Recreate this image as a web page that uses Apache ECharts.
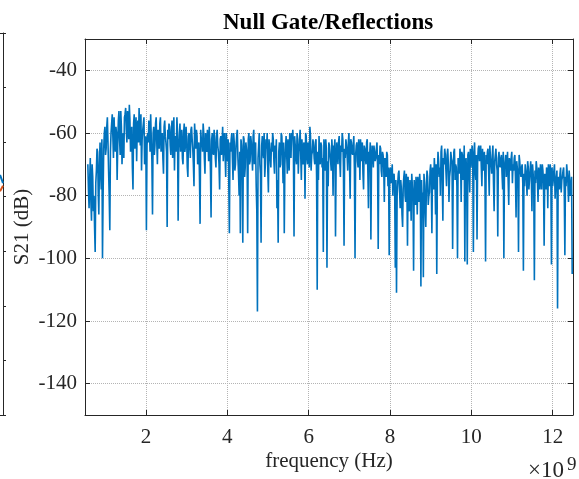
<!DOCTYPE html>
<html><head><meta charset="utf-8">
<script src="https://cdn.jsdelivr.net/npm/echarts@6/dist/echarts.min.js"></script>
<style>html,body{margin:0;padding:0;background:#fff}#c{width:579px;height:479px}</style>
</head><body><div id="c"></div>
<script>
// Sweep definition (instrument frequency grid): 0.57 GHz .. 12.48 GHz, 15 MHz step
const freqStartHz = 0.57e9;
const freqStepHz = 0.015e9;
// S21 magnitude (dB), samples at even sweep indices
const s21dBEven = [
-70,-84,-68,-88,-74,-80,-98,-72,-66,-86,-63,-78,-100,-65,-58,
-65,-55,-72,-91,-60,-54,-68,-62,-58,-75,-56,-62,-53,-70,-60,-55,-52,
-63,-57,-51,-66,-58,-78,-54,-61,-69,-56,-52,-64,-72,-59,-55,-67,-91,
-60,-56,-66,-62,-86,-58,-64,-55,-70,-61,-57,-66,-60,-73,-56,-63,-90,
-62,-58,-67,-56,-60,-72,-63,-55,-88,-61,-66,-59,-70,-57,-64,-62,-74,
-60,-68,-58,-65,-77,-61,-59,-70,-63,-89,-62,-66,-60,-73,-64,-59,-69,
-63,-87,-60,-67,-62,-71,-59,-66,-78,-61,-64,-69,-60,-74,-65,-62,-92,
-66,-60,-75,-63,-70,-61,-68,-80,-92,-64,-95,-62,-71,-65,-92,-60,-69,
-63,-72,-59,-66,-77,-117,-64,-70,-95,-61,-68,-74,-62,-60,-79,-65,-71,
-66,-62,-73,-68,-84,-95,-63,-70,-61,-76,-92,-65,-67,-62,-72,-64,-60,
-59,-93,-64,-70,-62,-66,-59,-75,-68,-63,-81,-61,-70,-65,-58,-72,-66,
-64,-70,-62,-110,-75,-67,-63,-71,-98,-66,-62,-103,-77,-64,-69,-62,-80,
-65,-93,-63,-70,-61,-74,-66,-62,-96,-68,-64,-72,-60,-81,-63,-67,-61,
-100,-64,-69,-62,-75,-66,-63,-78,-65,-70,-62,-84,-67,-94,-64,-71,-66,
-68,-63,-97,-70,-65,-74,-67,-82,-69,-66,-77,-99,-71,-75,-80,-73,-103,
-111,-76,-72,-84,-78,-90,-74,-80,-73,-96,-82,-75,-88,-77,-104,-79,-74,
-86,-78,-73,-109,-81,-106,-76,-90,-72,-83,-79,-70,-92,-75,-68,-86,-105,
-66,-74,-80,-64,-88,-70,-67,-77,-65,-82,-72,-68,-97,-66,-75,-71,-100,
-70,-65,-82,-67,-73,-101,-68,-102,-66,-79,-71,-64,-98,-63,-75,-94,-65,
-69,-64,-77,-72,-66,-101,-70,-65,-80,-68,-73,-64,-85,-67,-70,-93,-66,
-71,-67,-78,-100,-69,-74,-66,-83,-70,-68,-76,-72,-67,-87,-71,-98,-69,
-74,-70,-104,-77,-72,-80,-71,-75,-69,-85,-73,-107,-76,-71,-82,-74,-70,
-78,-72,-96,-75,-71,-84,-73,-70,-102,-77,-72,-81,-74,-116,-76,-73,-79,
-74,-71,-99,-77,-73,-82,-75,-78,-105
];
// S21 magnitude (dB), samples at odd sweep indices
const s21dBOdd = [
-78,-75,-82,-70,-85,-90,-76,-65,-79,-70,-73,-62,-80,-60,-67,
-58,-63,-80,-66,-57,-61,-55,-66,-60,-64,-53,-67,-58,-63,-68,-54,-59,
-53,-62,-56,-60,-71,-57,-65,-55,-58,-63,-60,-54,-62,-57,-70,-61,-64,
-63,-59,-54,-69,-60,-67,-57,-63,-59,-65,-55,-62,-68,-58,-61,-66,-59,
-57,-64,-59,-68,-55,-61,-66,-60,-65,-57,-63,-68,-60,-66,-58,-71,-61,
-64,-59,-62,-70,-57,-65,-61,-67,-74,-59,-63,-57,-68,-60,-66,-62,-58,
-72,-62,-66,-59,-68,-61,-64,-70,-62,-67,-58,-63,-67,-60,-69,-75,-63,
-62,-68,-60,-72,-64,-59,-73,-66,-62,-69,-61,-74,-63,-67,-62,-70,-61,
-67,-61,-70,-63,-85,-68,-60,-73,-64,-66,-60,-70,-65,-72,-62,-68,-63,
-60,-69,-64,-62,-75,-66,-71,-60,-67,-63,-70,-61,-73,-66,-60,-68,-62,
-66,-61,-68,-60,-73,-63,-67,-62,-70,-65,-60,-68,-63,-71,-61,-67,-62,
-68,-63,-74,-66,-61,-70,-64,-68,-62,-72,-65,-69,-63,-67,-72,-66,-64,
-62,-70,-66,-63,-69,-64,-60,-71,-65,-62,-67,-63,-70,-62,-66,-64,-72,
-67,-63,-71,-65,-62,-69,-73,-64,-68,-63,-72,-66,-63,-70,-67,-64,-69,
-65,-71,-67,-64,-72,-66,-70,-68,-74,-67,-71,-73,-76,-70,-74,-78,-75,
-80,-73,-78,-75,-86,-77,-72,-82,-76,-74,-85,-78,-73,-80,-75,-83,-77,
-74,-82,-77,-75,-79,-73,-84,-77,-74,-80,-72,-76,-71,-78,-73,-70,-74,
-69,-71,-66,-75,-68,-65,-72,-67,-70,-74,-66,-69,-73,-65,-70,-77,-68,
-73,-68,-66,-75,-64,-70,-74,-67,-72,-65,-68,-70,-66,-72,-67,-69,-64,
-67,-71,-65,-69,-75,-67,-66,-72,-64,-70,-67,-76,-69,-65,-72,-68,-70,
-68,-73,-66,-71,-67,-70,-75,-68,-72,-66,-70,-68,-74,-69,-73,-67,-72,
-71,-76,-73,-70,-75,-69,-78,-72,-74,-70,-77,-72,-69,-75,-71,-78,-73,
-70,-76,-73,-78,-72,-70,-77,-74,-71,-75,-70,-76,-72,-74,-78,-71,-75,
-72,-78,-74,-70,-76,-72,-80,-74
];
const xTickValues = [2e9, 4e9, 6e9, 8e9, 10e9, 12e9];
const yTickValues = [-140, -120, -100, -80, -60, -40];
const xRange = [0.5e9, 12.5e9];
const yRange = [-150, -30];
const titleText = 'Null Gate/Reflections';
const xLabel = 'frequency (Hz)';
const yLabel = 'S21 (dB)';
const xExponent = '9';
// neighbouring (cropped) subplot: only its right edge is visible
const leftPanelBlue = [[0, 4.4], [1, 4.25]];
const leftPanelRed = [[0, 4.1], [1, 4.2]];

// merge even/odd samples in sweep order
const sweep = [];
s21dBEven.forEach((v, i) => {
  sweep.push(v);
  if (i < s21dBOdd.length) sweep.push(s21dBOdd[i]);
});
const seriesData = sweep.map((v, k) => [freqStartHz + k * freqStepHz, v]);

const ink = '#262626';
const gridInk = '#b4b4b4';
const serif = '"Liberation Serif", "Times New Roman", serif';
const chart = echarts.init(document.getElementById('c'), null, {renderer: 'canvas'});
const frameLine = {show: true, onZero: false, lineStyle: {color: ink, width: 1}};
const frameTick = {show: true, inside: true, length: 5, lineStyle: {color: ink, width: 1}};
chart.setOption({
  animation: false,
  backgroundColor: '#ffffff',
  title: {text: titleText, left: 218, top: 7,
    textStyle: {fontFamily: serif, fontSize: 23, fontWeight: 'bold', color: '#000'}},
  grid: [
    {left: 85, right: 6, top: 39, bottom: 64, containLabel: false},
    {left: 0, right: 576, top: 33, bottom: 64, containLabel: false, show: false}
  ],
  xAxis: [
    {gridIndex: 0, type: 'value', min: xRange[0], max: xRange[1], position: 'bottom',
     axisLine: frameLine,
     axisTick: Object.assign({}, frameTick, {customValues: xTickValues}),
     axisLabel: {customValues: xTickValues, formatter: v => String(Math.round(v / 1e9)),
       fontFamily: serif, fontSize: 21, color: ink, margin: 12},
     splitLine: {show: true, lineStyle: {color: gridInk, type: 'dotted', width: 1}},
     name: xLabel, nameLocation: 'middle', nameGap: 36, nameMoveOverlap: false,
     nameTextStyle: {fontFamily: serif, fontSize: 21, color: ink}},
    {gridIndex: 0, type: 'value', min: xRange[0], max: xRange[1], position: 'top',
     axisLine: frameLine,
     axisTick: Object.assign({}, frameTick, {customValues: xTickValues}),
     axisLabel: {show: false}, splitLine: {show: false}},
    {gridIndex: 1, type: 'value', min: 0, max: 1, position: 'bottom',
     axisLine: frameLine, axisTick: {show: false}, axisLabel: {show: false}, splitLine: {show: false}},
    {gridIndex: 1, type: 'value', min: 0, max: 1, position: 'top',
     axisLine: frameLine, axisTick: {show: false}, axisLabel: {show: false}, splitLine: {show: false}}
  ],
  yAxis: [
    {gridIndex: 0, type: 'value', min: yRange[0], max: yRange[1], position: 'left',
     axisLine: frameLine,
     axisTick: Object.assign({}, frameTick, {customValues: yTickValues}),
     axisLabel: {customValues: yTickValues, fontFamily: serif, fontSize: 21, color: ink, margin: 8},
     splitLine: {show: true, lineStyle: {color: gridInk, type: 'dotted', width: 1}},
     name: yLabel, nameLocation: 'middle', nameGap: 52, nameMoveOverlap: false,
     nameTextStyle: {fontFamily: serif, fontSize: 21, color: ink}},
    {gridIndex: 0, type: 'value', min: yRange[0], max: yRange[1], position: 'right',
     axisLine: frameLine,
     axisTick: Object.assign({}, frameTick, {customValues: yTickValues}),
     axisLabel: {show: false}, splitLine: {show: false}},
    {gridIndex: 1, type: 'value', min: 0, max: 7, interval: 1, position: 'right',
     axisLine: frameLine, axisTick: {show: true, inside: false, length: 3, lineStyle: {color: ink, width: 1}},
     axisLabel: {show: false}, splitLine: {show: false}}
  ],
  series: [
    {type: 'line', xAxisIndex: 0, yAxisIndex: 0, data: seriesData, showSymbol: false,
     sampling: null, lineStyle: {color: '#0072BD', width: 1.6}, itemStyle: {color: '#0072BD'}},
    {type: 'line', xAxisIndex: 2, yAxisIndex: 2, data: leftPanelBlue, showSymbol: false,
     lineStyle: {color: '#0072BD', width: 2}},
    {type: 'line', xAxisIndex: 2, yAxisIndex: 2, data: leftPanelRed, showSymbol: false,
     lineStyle: {color: '#D95319', width: 2}}
  ],
  graphic: [
    {type: 'text', left: 528, top: 459, style: {text: '×10', font: '23px ' + serif, fill: ink}},
    {type: 'text', left: 567, top: 456, style: {text: xExponent, font: '19px ' + serif, fill: ink}},
    {type: 'text', left: -9, top: 446, style: {text: xExponent, font: '19px ' + serif, fill: ink}}
  ]
});
</script></body></html>
